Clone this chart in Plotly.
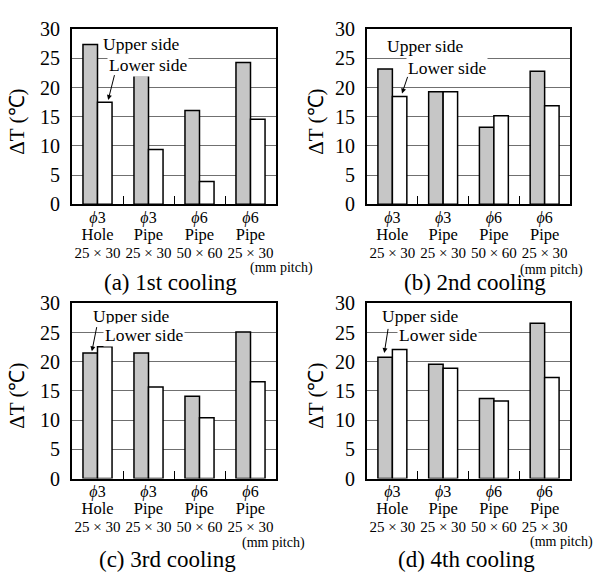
import plotly.graph_objects as go

FONT = "'Liberation Serif', 'Times New Roman', serif"

categories = ["\u03d53 Hole 25×30", "\u03d53 Pipe 25×30", "\u03d56 Pipe 50×60", "\u03d56 Pipe 25×30"]
phi_labels = ["3", "3", "6", "6"]
kind_labels = ["Hole", "Pipe", "Pipe", "Pipe"]
pitch_labels = ["25 × 30", "25 × 30", "50 × 60", "25 × 30"]

upper_1 = [27.4, 22.1, 16.1, 24.3]
lower_1 = [17.5, 9.4, 3.9, 14.6]
upper_2 = [23.2, 19.3, 13.2, 22.8]
lower_2 = [18.5, 19.3, 15.2, 16.9]
upper_3 = [21.5, 21.5, 14.1, 25.1]
lower_3 = [22.6, 15.7, 10.4, 16.6]
upper_4 = [20.8, 19.6, 13.7, 26.6]
lower_4 = [22.1, 18.9, 13.3, 17.3]

captions = ["(a) 1st cooling", "(b) 2nd cooling", "(c) 3rd cooling", "(d) 4th cooling"]
y_ticks = [0, 5, 10, 15, 20, 25, 30]
group_bounds = [0.5, 1.5, 2.5]

panels = [(upper_1, lower_1), (upper_2, lower_2), (upper_3, lower_3), (upper_4, lower_4)]

x_pos = list(range(len(categories)))
ticktext = [
    f"<span style='font-size:16px'><i>\u03d5</i>{p}</span><br>"
    f"<span style='font-size:16.5px'>{k}</span><br>"
    f"<span style='font-size:15px'>{m}</span>"
    for p, k, m in zip(phi_labels, kind_labels, pitch_labels)
]

W, H = 607, 579
# pixel boxes of plot areas (x0, x1, ytop, ybottom)
boxes = [(72, 276, 19, 201), (367, 570, 19, 201), (72, 276, 304, 486), (367, 570, 304, 486)]

fig = go.Figure()
layout = dict(
    width=W, height=H, margin=dict(l=0, r=0, t=0, b=0),
    paper_bgcolor="white", plot_bgcolor="white",
    showlegend=False, barmode="group", bargap=0.43, bargroupgap=0,
    font=dict(family=FONT, color="black"),
)

for i, (up, lo) in enumerate(panels):
    n = "" if i == 0 else str(i + 1)
    xa, ya = "x" + n, "y" + n
    fig.add_trace(go.Bar(x=x_pos, y=up, xaxis=xa, yaxis=ya, name="Upper side",
                         marker=dict(color="#c6c6c6", line=dict(color="black", width=1.5))))
    fig.add_trace(go.Bar(x=x_pos, y=lo, xaxis=xa, yaxis=ya, name="Lower side",
                         marker=dict(color="white", line=dict(color="black", width=1.5))))
    x0, x1, yt, yb = boxes[i]
    layout["xaxis" + n] = dict(
        domain=[x0 / W, x1 / W], anchor=ya, range=[-0.5, 3.5],
        tickvals=x_pos, ticktext=ticktext, ticks="", tickfont=dict(size=13.5, family=FONT),
        showline=True, mirror=True, linecolor="black", linewidth=2, showgrid=False,
        zeroline=False, ticklabelstandoff=0,
    )
    m = str(i + 5)
    layout["xaxis" + m] = dict(
        domain=[x0 / W, x1 / W], anchor=ya, overlaying=xa, range=[-0.5, 3.5],
        tickvals=group_bounds, ticks="inside", ticklen=8, tickwidth=1, tickcolor="black",
        showticklabels=False, showgrid=False, zeroline=False, showline=False,
    )
    layout["yaxis" + n] = dict(
        domain=[1 - yb / H, 1 - yt / H], anchor=xa, range=[0, 30],
        tickvals=y_ticks, ticks="", tickfont=dict(size=20, family=FONT),
        showline=True, mirror=True, linecolor="black", linewidth=2,
        showgrid=True, gridcolor="#707070", gridwidth=1, zeroline=False,
        ticklabelstandoff=6,
    )
    fig.add_trace(go.Scatter(x=[-0.5], y=[0], xaxis="x" + m, yaxis=ya, mode="markers",
                             marker=dict(opacity=0), hoverinfo="skip", showlegend=False))

ann = []
cap_pos = [(170, 282), (475, 282), (167, 570), (467, 570)]
for c, (cx, cy) in zip(captions, cap_pos):
    ann.append(dict(text=c, xref="paper", yref="paper", x=cx / W, y=1 - cy / H,
                    xanchor="center", yanchor="middle", showarrow=False,
                    font=dict(size=23, family=FONT)))
yt_pos = [(17, 115), (316, 115), (17, 400), (316, 400)]
for (tx, ty) in yt_pos:
    ann.append(dict(text="\u0394T (\u2103)", xref="paper", yref="paper", x=tx / W, y=1 - ty / H,
                    xanchor="center", yanchor="middle", showarrow=False, textangle=-90,
                    font=dict(size=21, family=FONT)))
mm_pos = [(0.863, -0.365), (0.744, -0.375), (0.824, -0.37), (0.793, -0.365)]
for i, (mx, my) in enumerate(mm_pos):
    n = "" if i == 0 else str(i + 1)
    ann.append(dict(text="(mm pitch)", xref="x" + n + " domain", yref="y" + n + " domain",
                    x=mx, y=my, xanchor="left", yanchor="middle", showarrow=False,
                    font=dict(size=14, family=FONT)))
upper_lbl = [(0.87, 27.5), (0.65, 27.2), (0.66, 27.9), (0.56, 27.9)]
lower_lbl = [(0.99, 23.8), (1.08, 23.4), (0.91, 24.6), (0.90, 24.6)]
arrows = [((0.21, 17.9), (0.34, 22.4)), ((0.19, 19.0), (0.31, 22.1)),
          ((-0.11, 21.8), (-0.01, 26.2)), ((-0.16, 21.5), (-0.08, 25.9))]
for i in range(4):
    n = "" if i == 0 else str(i + 1)
    xr, yr = "x" + n, "y" + n
    ux, uy = upper_lbl[i]
    lx, ly = lower_lbl[i]
    ann.append(dict(text="Upper side", xref=xr, yref=yr, x=ux, y=uy, showarrow=False,
                    bgcolor="white", borderpad=1, font=dict(size=17.5, family=FONT)))
    ann.append(dict(text="Lower side", xref=xr, yref=yr, x=lx, y=ly, showarrow=False,
                    bgcolor="white", borderpad=1, font=dict(size=17.5, family=FONT)))
    (tx, ty), (sx, sy) = arrows[i]
    ann.append(dict(text="", xref=xr, yref=yr, x=tx, y=ty, ax=sx, ay=sy,
                    axref=xr, ayref=yr, showarrow=True, arrowhead=2, arrowsize=1,
                    arrowwidth=1, arrowcolor="black", standoff=0, startstandoff=0))

layout["annotations"] = ann
fig.update_layout(**layout)
fig.write_html("out.html", config={"displayModeBar": False},
               post_script="document.body.style.margin='0';document.body.style.overflow='hidden';")
